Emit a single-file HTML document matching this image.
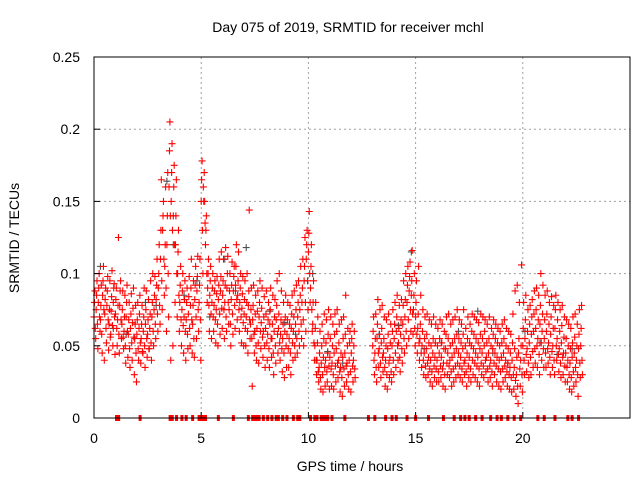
<!DOCTYPE html>
<html><head><meta charset="utf-8"><style>
body{margin:0;background:#fff;width:640px;height:480px;overflow:hidden}
svg{display:block;font-family:"Liberation Sans",sans-serif}
</style></head><body>
<svg id="chart" width="640" height="480" viewBox="0 0 640 480">
<text x="348" y="32" font-size="14" text-anchor="middle">Day 075 of 2019, SRMTID for receiver mchl</text>
<text x="350" y="471" font-size="14" text-anchor="middle">GPS time / hours</text>
<text x="19" y="238" font-size="14" text-anchor="middle" transform="rotate(-90 19 238)">SRMTID / TECUs</text>
<g id="grid"></g><g id="marks"></g><g id="axes"></g>
</svg>
<script>
const seg1Start = 0.0, seg2Start = 13.0, step = 0.1;
const seg1A = [70,75,80,68,85,72,78,65,74,80, 72,68,78,65,60,70,58,62,66,55, 58,62,55,60,65,58,62,70,75,82, 90,110,130,105,120,160,150,140,120,100, 80,75,70,68,72,78,65,82,88,80, 150,160,120,90,85,80,78,75,82,88, 85,80,90,75,82,88,92,85,80,76, 72,70,78,65,68,60,62,70,66,60, 62,58,65,55,60,68,62,58,55,60, 58,55,62,60,65,70,75,80,95,110, 115,90,65,50,40,35,38,42,40,45, 42,38,45,48,40,35,42,45,38,40, 45,40];
const seg1B = [88,95,100,92,105,90,98,95,102,93, 90,125,95,88,85,92,80,86,90,78, 80,85,78,90,88,82,95,100,98,110, 120,165,150,160,170,205,190,175,165,130, 105,100,95,90,98,110,95,105,112,110, 178,170,140,110,105,100,95,98,110,115, 110,118,112,100,108,105,120,115,100,98, 95,100,144,90,92,85,88,95,90,84, 88,80,90,85,82,95,100,88,80,85, 80,78,85,88,92,95,105,110,125,130, 143,120,95,80,70,60,65,72,68,75, 70,65,72,75,65,68,70,85,62,60, 65,60];
const seg1C = [55,48,60,45,40,52,47,58,50,44, 50,45,55,48,38,42,35,40,30,25, 40,38,45,35,42,48,40,50,55,60, 65,75,85,60,70,40,50,80,70,60, 50,45,40,48,50,45,42,55,60,40, 100,135,80,60,55,60,52,50,58,62, 55,60,65,50,58,62,68,60,52,50, 50,45,55,22,45,40,38,48,42,35, 40,35,42,30,38,45,40,32,28,35, 35,30,40,42,45,50,55,50,60,75, 80,60,40,30,25,20,18,22,25,20, 22,20,25,28,18,15,22,25,20,18, 25,28];
const seg1D = [80,85,90,78,95,82,88,75,84,90, 82,78,88,75,70,80,68,72,76,65, 68,72,65,70,75,68,72,80,85,92, 100,130,140,120,140,185,170,160,140,115, 92,88,82,80,84,90,78,92,98,92, 165,150,130,100,95,90,88,86,92,98, 95,92,100,88,92,98,105,95,90,86, 82,80,88,75,78,72,74,80,76,70, 72,68,75,65,70,78,72,68,65,70, 68,65,72,70,75,80,85,90,105,120, 128,105,80,62,52,45,50,55,52,58, 55,50,58,60,52,45,55,58,50,52, 55,50];
const seg1E = [62,65,70,58,75,62,68,56,64,70, 62,58,68,56,50,60,48,52,56,45, 48,52,46,50,55,48,52,60,65,72, 78,95,110,90,100,140,130,120,100,85, 68,64,60,58,62,68,55,70,75,68, 130,150,100,78,72,70,68,65,72,76, 75,70,80,65,72,78,82,75,70,66, 62,60,68,55,58,50,52,60,56,50, 52,48,55,45,50,58,52,48,45,50, 48,45,52,50,55,60,65,68,80,95, 100,75,52,40,32,28,30,35,32,36, 34,30,36,38,32,28,34,36,30,32, 36,34];
const seg2A = [50,45,55,48,52,45,40,48,42,50, 55,60,52,58,65,70,80,88,85,75, 70,62,55,50,45,48,42,40,45,42, 40,45,42,38,48,45,40,42,45,48, 45,42,48,40,45,42,50,48,45,42, 48,45,50,42,45,40,48,45,42,40, 42,45,40,38,35,40,35,30,45,40, 50,55,48,52,58,60,62,55,65,60, 55,60,52,58,50,62,55,48,52,45, 45,40,38,42,45,40,48,50];
const seg2B = [70,72,82,75,78,70,68,72,65,75, 80,85,78,82,95,100,105,108,116,100, 95,105,85,75,70,72,68,65,70,65, 62,68,65,60,70,72,65,68,70,75, 68,65,75,62,70,65,72,70,68,66, 72,70,68,65,70,62,68,65,62,60, 65,68,62,60,58,72,88,92,80,106, 80,85,75,78,82,88,90,85,100,92, 85,88,80,84,78,85,80,75,78,70, 68,65,62,70,72,65,75,78];
const seg2C = [30,25,35,28,32,22,20,28,25,30, 35,40,32,38,45,50,55,60,58,50, 45,40,35,30,28,30,25,22,28,25, 25,28,22,20,30,28,22,25,28,30, 28,25,30,22,28,25,30,28,25,22, 30,28,32,25,28,22,30,25,22,20, 25,28,22,20,18,20,15,10,22,18, 30,32,28,30,35,38,35,30,40,35, 35,38,30,35,30,40,32,28,30,25, 25,20,18,22,25,15,28,30];
const seg2D = [60,55,65,58,62,55,50,58,52,60, 65,70,62,68,78,82,92,98,95,85, 80,72,65,60,55,58,52,50,55,52, 50,55,52,48,58,55,50,52,55,58, 55,52,58,50,55,52,60,58,55,52, 58,55,60,52,55,50,58,55,52,50, 52,55,50,48,45,52,48,42,55,50, 62,68,60,65,70,72,75,68,78,72, 68,72,65,70,62,75,68,60,64,56, 55,50,48,52,56,50,58,62];
const seg2E = [40,35,45,38,42,35,30,38,32,40, 45,50,42,48,55,60,68,75,72,62, 58,52,45,40,36,38,34,32,36,34, 32,36,34,30,38,36,32,34,36,38, 36,34,38,32,36,34,40,38,36,34, 38,36,40,34,36,32,38,36,34,32, 34,36,32,30,28,30,26,22,34,30, 40,44,38,42,46,48,50,44,52,48, 45,48,42,46,40,50,44,38,42,36, 35,30,28,32,35,30,38,40];
const greyT = [0.3,0.9,1.5,2.4,2.9,3.4,3.7,4.2,4.8,5.4,6.1,6.6,7.1,7.5,8.2,8.9,9.4,10.2,10.9,11.6,13.3,14.2,14.8,15.4,16.2,17.0,17.9,18.6,19.3,20.1,20.8,21.6,22.3];
const greyV = [105,62,58,80,78,164,120,85,95,70,110,88,118,60,74,66,58,100,46,38,58,64,115,48,52,60,74,45,38,60,52,44,48];
const zeroTimes = [1.05,1.15,2.15,3.55,3.65,3.85,4.1,4.3,4.6,4.9,5.0,5.1,5.2,5.8,6.5,7.2,7.4,7.5,7.6,7.7,7.9,8.1,8.3,8.5,8.6,8.8,9.0,9.3,9.5,9.6,10.1,10.3,10.4,10.6,10.7,10.8,10.9,11.1,11.7,12.8,13.1,13.6,13.9,14.1,14.6,15.0,15.6,16.3,16.8,17.1,17.3,17.5,17.8,18.1,18.5,18.8,19.0,19.3,19.6,19.9,20.7,21.0,21.5,22.1,22.3,22.6];
const xTicks = [0,5,10,15,20];
const yTicks = [0,0.05,0.1,0.15,0.2,0.25];
const yTickLabels = ["0","0.05","0.1","0.15","0.2","0.25"];

const L=94,R=630,T=57,B=418,XMAX=25,YMAX=0.25;
const xs=t=>L+(t/XMAX)*(R-L);
const ys=v=>B-(v/YMAX)*(B-T);
const NS="http://www.w3.org/2000/svg";
function mk(tag,parent,attrs){const e=document.createElementNS(NS,tag);for(const k in attrs)e.setAttribute(k,attrs[k]);parent.appendChild(e);return e;}
const grid=document.getElementById('grid'),marks=document.getElementById('marks'),axes=document.getElementById('axes');

xTicks.forEach(t=>{
  const x=xs(t);
  if(t>0){const g=mk('line',grid,{x1:x,x2:x,y1:T,y2:B,stroke:'#a0a0a0','stroke-dasharray':'2,3'});
  
  }
  const tk=mk('line',axes,{x1:x,x2:x,y1:B,y2:B-6,stroke:'#000'});
  
  
  const lb=mk('text',axes,{x:x,y:B+25,'font-size':14,'text-anchor':'middle'});lb.textContent=t;
  
  
});
yTicks.forEach((v,i)=>{
  const y=ys(v);
  if(v>0&&v<YMAX){const g=mk('line',grid,{x1:L,x2:R,y1:y,y2:y,stroke:'#a0a0a0','stroke-dasharray':'2,3'});
  
  }
  const tk=mk('line',axes,{x1:L,x2:L+6,y1:y,y2:y,stroke:'#000'});
  
  
  const lb=mk('text',axes,{x:L-14,y:y+5,'font-size':14,'text-anchor':'end'});lb.textContent=yTickLabels[i];
  
  
});
const frame=mk('rect',axes,{x:L,y:T,width:R-L,height:B-T,fill:'none',stroke:'#000'});



function cross(t,v,color){
  const x=xs(t),y=ys(v);
  const p=mk('path',marks,{d:`M${x-3.5},${y}h7M${x},${y-3.5}v7`,stroke:color,'stroke-width':1.1,fill:'none'});
  
  
}
function series(start,arr,off){arr.forEach((m,i)=>cross(start+i*step+off,m/1000,'#ff0000'));}
greyT.forEach((t,i)=>cross(t,greyV[i]/1000,'#505050'));
series(seg1Start,seg1A,0);series(seg1Start,seg1D,0.02);series(seg1Start,seg1B,0.04);series(seg1Start,seg1E,0.06);series(seg1Start,seg1C,0.08);
series(seg2Start,seg2A,0);series(seg2Start,seg2D,0.02);series(seg2Start,seg2B,0.04);series(seg2Start,seg2E,0.06);series(seg2Start,seg2C,0.08);
zeroTimes.forEach(t=>{
  const r=mk('rect',marks,{x:xs(t)-1.5,y:B-3,width:3,height:6,fill:'#ff0000'});
  
  
});
</script>
</body></html>
